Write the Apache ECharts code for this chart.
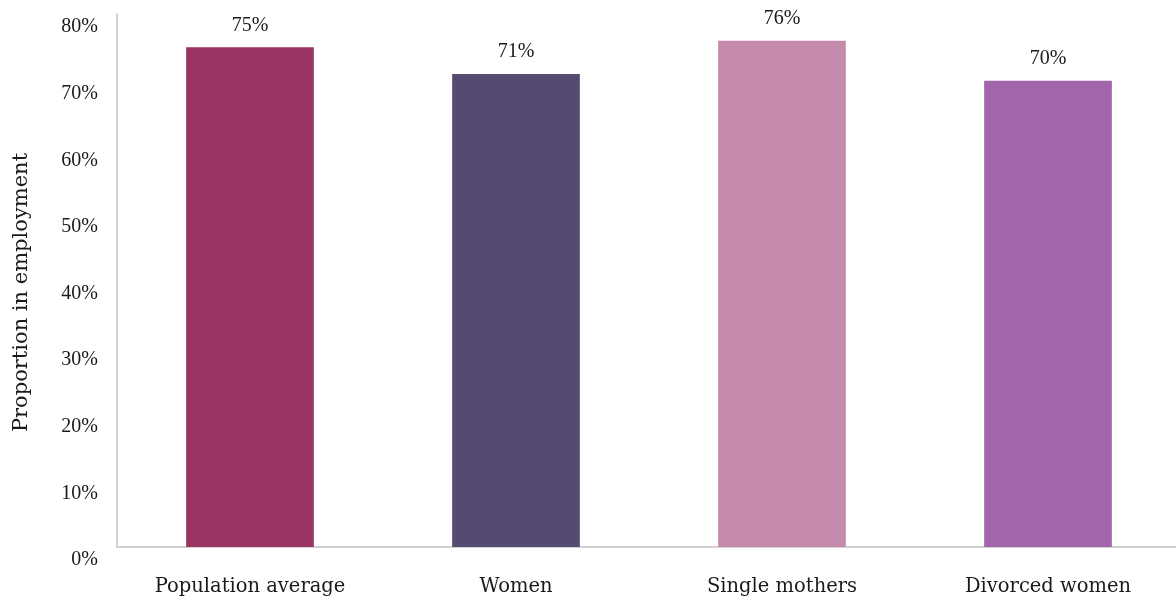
<!DOCTYPE html>
<html>
<head>
<meta charset="utf-8">
<script src="https://cdn.jsdelivr.net/npm/echarts@6/dist/echarts.min.js"></script>
<style>
  html, body { margin: 0; padding: 0; background: #ffffff; }
  #chart { width: 1176px; height: 600px; }
</style>
</head>
<body>
<div id="chart"></div>
<script>
// Employment rate by group (percent)
const categories = ['Population average', 'Women', 'Single mothers', 'Divorced women'];
const values = [75, 71, 76, 70];
const barColors = ['#9a3462', '#554a6f', '#c58bad', '#a265aa'];
const yTicks = [0, 10, 20, 30, 40, 50, 60, 70, 80];

const WORD_FONT = '"DejaVu Serif", "Liberation Serif", serif';
const NUM_FONT = '"Liberation Serif", "DejaVu Serif", serif';
const TEXT_COLOR = '#1a1a1a';

const chart = echarts.init(document.getElementById('chart'));
chart.setOption({
  animation: false,
  backgroundColor: '#ffffff',
  grid: { left: 117, top: 14, bottom: 53, width: 1064, outerBoundsMode: 'none', containLabel: false },
  xAxis: {
    type: 'category',
    data: categories,
    axisLine: { lineStyle: { color: '#c4c4c4', width: 1.5 } },
    axisTick: { show: false },
    axisLabel: { color: TEXT_COLOR, fontFamily: WORD_FONT, fontSize: 19.5, margin: 30 }
  },
  yAxis: {
    type: 'value',
    min: yTicks[0],
    max: yTicks[yTicks.length - 1],
    interval: 10,
    name: 'Proportion in employment',
    nameLocation: 'middle',
    nameGap: 85,
    nameRotate: 90,
    nameTextStyle: {
      color: TEXT_COLOR, fontFamily: WORD_FONT, fontSize: 21,
      padding: [0, 24, 0, 0]
    },
    axisLine: { show: true, lineStyle: { color: '#c4c4c4', width: 1.5 } },
    axisTick: { show: false },
    splitLine: { show: false },
    axisLabel: {
      color: TEXT_COLOR, fontFamily: NUM_FONT, fontSize: 20, margin: 19,
      verticalAlign: 'top', lineHeight: 26,
      formatter: v => v + '%'
    }
  },
  series: [{
    type: 'bar',
    barWidth: '48%',
    data: values.map((v, i) => ({ value: v, itemStyle: { color: barColors[i] } })),
    label: {
      show: true, position: 'top', distance: 12,
      color: TEXT_COLOR, fontFamily: NUM_FONT, fontSize: 20,
      formatter: p => p.value + '%'
    }
  }]
});
</script>
</body>
</html>
